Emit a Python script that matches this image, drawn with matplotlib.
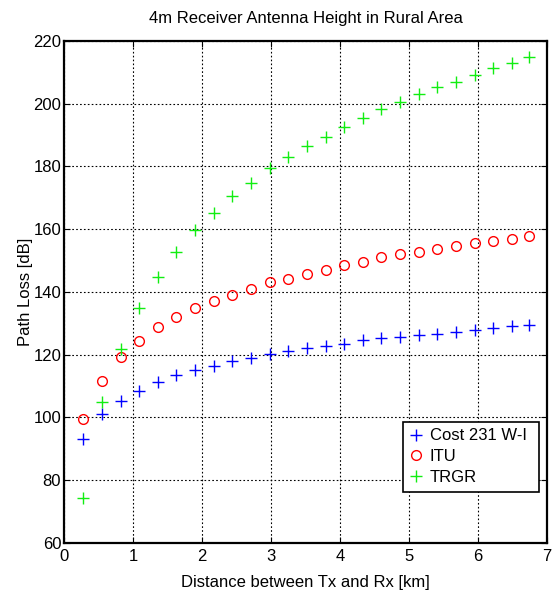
import numpy as np
import matplotlib.pyplot as plt

plt.rcParams['font.family'] = ['Liberation Sans', 'DejaVu Sans']

# distance [km]
dist = [0.28, 0.55, 0.82, 1.09, 1.36, 1.63, 1.90, 2.17, 2.44, 2.71,
        2.98, 3.25, 3.52, 3.79, 4.06, 4.33, 4.60, 4.87, 5.14, 5.41,
        5.68, 5.95, 6.22, 6.49, 6.74]

# path loss [dB]
cost231 = [93.0, 101.0, 105.1, 108.4, 111.3, 113.5, 115.0, 116.4, 117.9, 119.0,
           120.1, 121.2, 122.1, 122.8, 123.3, 124.8, 125.2, 125.8, 126.3, 126.7,
           127.4, 127.9, 128.6, 129.2, 129.6]
itu = [99.5, 111.7, 119.3, 124.4, 128.7, 131.9, 134.8, 137.2, 139.2, 140.9,
       143.1, 144.1, 145.6, 146.9, 148.5, 149.5, 151.0, 152.0, 152.7, 153.6,
       154.7, 155.6, 156.2, 157.0, 158.0]
trgr = [74.3, 104.8, 121.9, 134.8, 144.8, 152.6, 159.8, 165.1, 170.5, 174.8,
        179.5, 183.0, 186.5, 189.3, 192.6, 195.5, 198.3, 200.5, 203.1, 205.3,
        206.9, 209.3, 211.3, 212.9, 215.0]

fig = plt.figure(figsize=(5.58, 5.95), dpi=100)
ax = fig.add_axes([0.1147, 0.0874, 0.8656, 0.8437])

ax.plot(dist, cost231, '+', color='#0000ff', markersize=8, markeredgewidth=1.0, label='Cost 231 W-I')
ax.plot(dist, itu, 'o', color='#ff0000', markerfacecolor='none', markersize=7, markeredgewidth=1.0, label='ITU')
ax.plot(dist, trgr, '+', color='#11ee11', markersize=8, markeredgewidth=1.0, label='TRGR')

ax.set_xlim(0, 7)
ax.set_ylim(60, 220)
ax.set_xticks(range(0, 8))
ax.set_yticks(range(60, 221, 20))
ax.grid(True, linestyle=(0, (1.5, 2)), color='black', linewidth=0.8)
ax.tick_params(direction='in', top=True, right=True, labelsize=12, length=4, pad=2)
ax.tick_params(axis='x', pad=4)
for s in ax.spines.values():
    s.set_linewidth(1.6)

ax.set_title('4m Receiver Antenna Height in Rural Area', fontsize=12, pad=13)
ax.set_xlabel('Distance between Tx and Rx [km]', fontsize=12, labelpad=8)
ax.set_ylabel('Path Loss [dB]', fontsize=12, labelpad=0)

leg = ax.legend(loc='lower left', bbox_to_anchor=(0.702, 0.102, 0.282, 0.16), mode='expand',
                fontsize=12, fancybox=False, edgecolor='black', framealpha=1,
                handlelength=0.8, handletextpad=0.4, borderaxespad=0, labelspacing=0.35)
leg.get_frame().set_linewidth(1.2)

fig.savefig('out.png', dpi=100)
